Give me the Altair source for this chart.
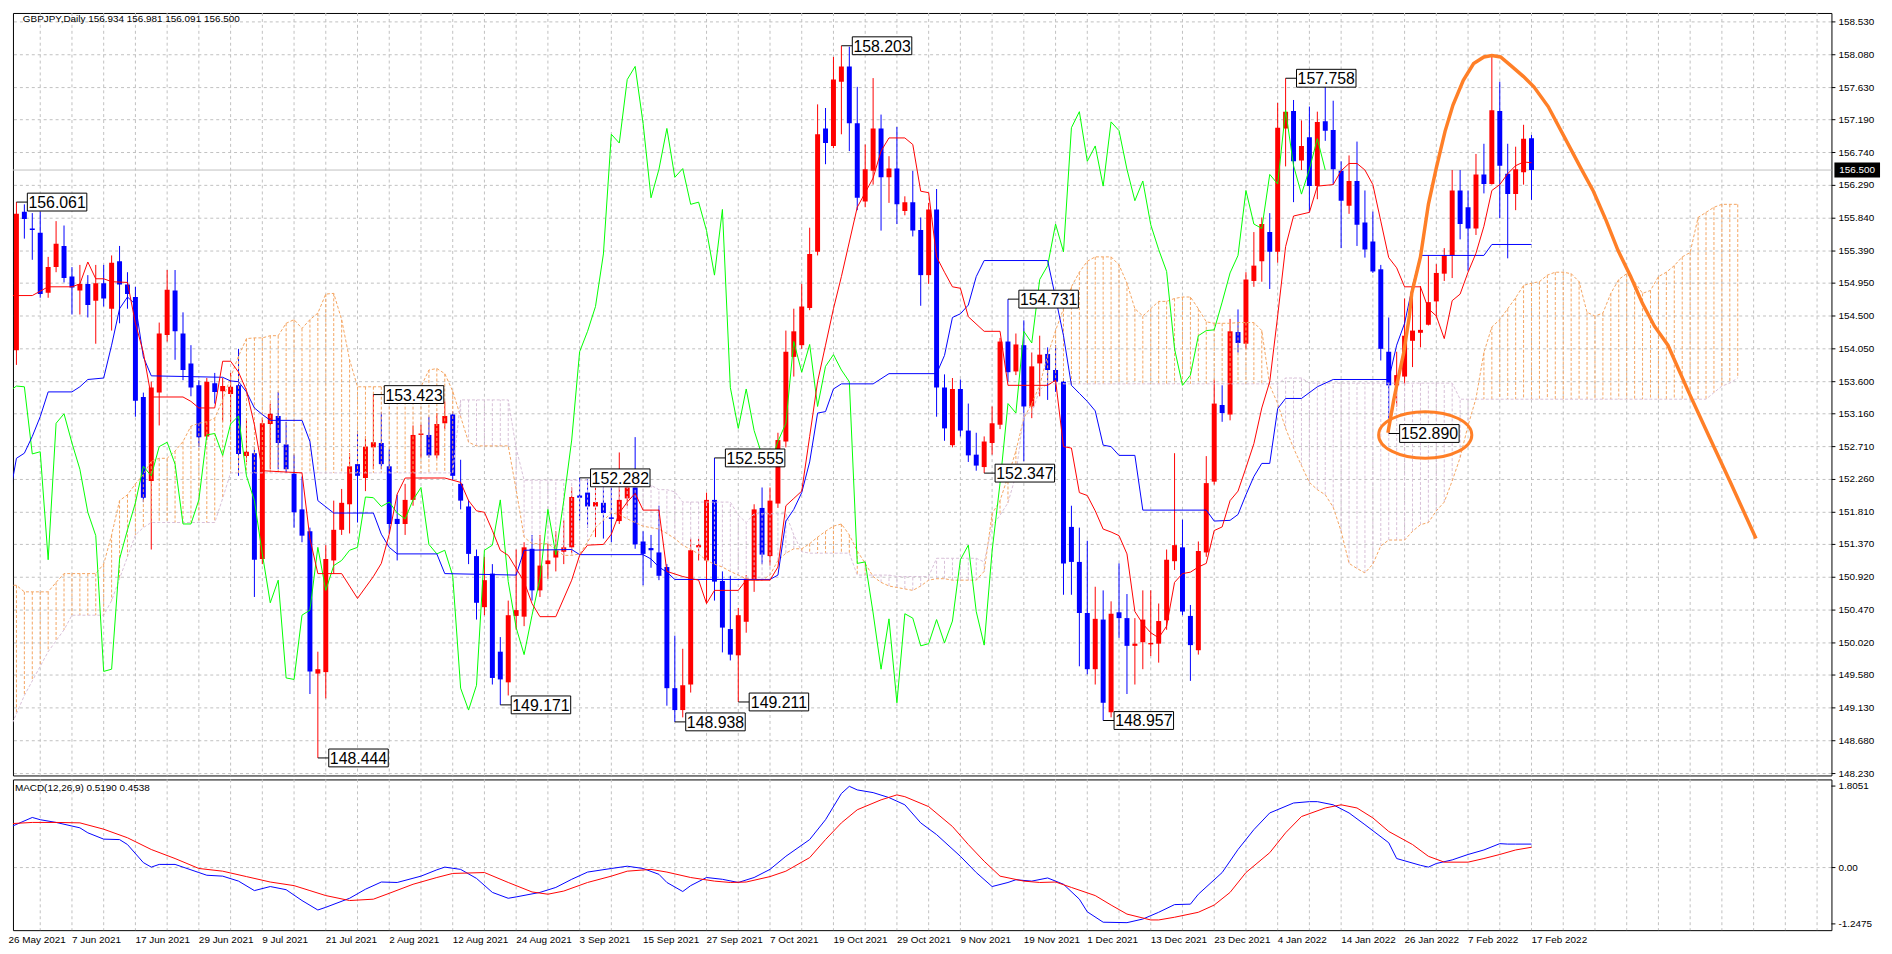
import altair as alt
import pandas as pd

# ---------------- data ----------------
date_bars = [0, 8, 16, 24, 32, 40, 48, 56, 64, 72, 80, 88, 96, 104, 112, 120,
             128, 136, 144, 152, 160, 168, 176, 184, 192]
date_labels = ["26 May 2021", "7 Jun 2021", "17 Jun 2021", "29 Jun 2021", "9 Jul 2021",
               "21 Jul 2021", "2 Aug 2021", "12 Aug 2021", "24 Aug 2021", "3 Sep 2021",
               "15 Sep 2021", "27 Sep 2021", "7 Oct 2021", "19 Oct 2021", "29 Oct 2021",
               "9 Nov 2021", "19 Nov 2021", "1 Dec 2021", "13 Dec 2021", "23 Dec 2021",
               "4 Jan 2022", "14 Jan 2022", "26 Jan 2022", "7 Feb 2022", "17 Feb 2022"]
grid_bars = [4, 8, 12, 16, 20, 24, 28, 32, 36, 40, 44, 48, 52, 56, 60, 64, 68, 72, 76, 80,
             84, 88, 92, 96, 100, 104, 108, 112, 116, 120, 124, 128, 132, 136, 140, 144,
             148, 152, 156, 160, 164, 168, 172, 176, 180, 184, 188, 192, 196, 200, 204, 208,
             212, 216, 220, 224, 228]

opens = [153.76, 154.03, 155.93, 155.70, 155.64, 154.82, 155.17, 155.46, 155.04, 154.85,
         154.94, 154.71, 154.95, 154.60, 155.25, 154.93, 154.76, 153.39, 152.24, 153.45,
         154.24, 154.85, 154.26, 153.85, 153.55, 152.85, 153.58, 153.47, 153.43, 153.55,
         152.58, 152.62, 151.17, 153.02, 153.13, 152.74, 152.34, 151.85, 151.55, 149.60,
         149.62, 151.15, 151.57, 151.92, 152.47, 152.28, 152.70, 152.76, 152.44, 151.72,
         151.65, 151.98, 152.87, 152.87, 152.59, 153.03, 153.15, 152.20, 151.89, 151.21,
         150.51, 150.97, 149.90, 149.48, 150.39, 150.38, 151.31, 150.74, 151.10, 151.19,
         151.27, 151.33, 152.04, 152.08, 151.89, 151.94, 151.74, 151.69, 152.00, 152.15,
         151.41, 151.32, 151.26, 151.06, 149.40, 149.10, 149.45, 151.33, 151.15, 151.98,
         150.87, 150.21, 149.85, 150.31, 150.89, 151.87, 151.21, 151.93, 152.78, 153.94,
         154.10, 154.61, 155.38, 157.07, 156.83, 157.71, 157.92, 157.14, 156.07, 156.49,
         157.07, 156.40, 156.52, 155.94, 156.06, 155.68, 155.06, 155.96, 153.52, 152.73,
         153.50, 152.93, 152.60, 152.43, 152.76, 153.01, 154.15, 153.74, 154.10, 153.26,
         153.85, 153.98, 153.76, 153.60, 151.61, 151.13, 150.43, 149.66, 150.34, 149.07,
         150.44, 150.36, 149.98, 150.03, 150.00, 150.01, 150.33, 151.14, 151.33, 150.39,
         149.92, 151.26, 152.23, 153.28, 153.15, 154.28, 154.12, 154.98, 155.25, 155.65,
         155.38, 157.07, 157.31, 156.63, 156.95, 156.28, 157.17, 157.05, 156.49, 156.01,
         156.35, 155.78, 155.52, 155.14, 154.01, 153.55, 153.67, 154.16, 154.27, 154.38,
         154.70, 155.08, 155.33, 156.22, 155.99, 155.70, 156.44, 156.31, 157.31, 156.45,
         156.17, 156.47, 156.934]
highs = [154.50, 156.061, 156.03, 155.91, 155.93, 155.31, 155.80, 155.74, 155.17, 155.20,
         155.06, 155.20, 155.20, 155.33, 155.46, 155.10, 154.90, 153.45, 153.60, 154.41,
         155.13, 155.13, 154.55, 154.10, 153.62, 153.65, 153.72, 153.65, 153.72, 154.05,
         153.10, 152.70, 153.10, 153.30, 153.46, 153.05, 152.60, 152.30, 151.60, 149.90,
         151.36, 151.97, 152.13, 152.62, 152.92, 152.85, 153.423, 153.18, 152.67, 152.05,
         152.20, 153.00, 153.01, 153.12, 153.17, 153.33, 153.19, 152.53, 151.98, 151.30,
         151.20, 151.10, 150.10, 150.60, 151.30, 151.40, 151.50, 151.50, 151.38, 151.55,
         151.70, 152.15, 152.282, 152.26, 152.15, 152.15, 152.15, 152.63, 152.30, 152.84,
         151.55, 151.50, 151.90, 151.10, 150.12, 149.94, 151.45, 151.45, 152.08, 152.555,
         151.00, 150.94, 150.50, 150.95, 151.92, 152.15, 152.15, 152.90, 154.30, 154.60,
         154.94, 155.71, 157.40, 157.35, 158.05, 158.203, 158.19, 157.64, 156.85, 157.76,
         157.26, 156.69, 157.09, 156.14, 156.49, 155.85, 156.05, 156.24, 153.70, 153.65,
         153.63, 153.30, 152.90, 152.85, 153.26, 154.20, 154.731, 154.26, 154.44, 154.00,
         154.23, 154.07, 154.10, 153.65, 151.90, 151.60, 151.42, 150.79, 150.74, 150.59,
         151.11, 150.69, 150.36, 150.74, 150.74, 150.56, 151.30, 152.62, 151.71, 150.54,
         151.41, 152.58, 153.63, 153.55, 154.46, 154.59, 155.10, 155.65, 155.85, 155.91,
         157.42, 157.758, 157.46, 157.18, 157.37, 157.30, 157.69, 157.45, 156.62, 156.70,
         156.89, 156.22, 155.93, 155.20, 154.48, 154.01, 154.74, 154.93, 154.91, 155.33,
         155.21, 155.43, 156.50, 156.50, 156.22, 156.72, 156.86, 158.05, 157.71, 156.86,
         156.82, 157.12, 156.981]
lows = [153.70, 153.83, 155.56, 155.27, 154.75, 154.75, 155.10, 154.96, 154.52, 154.52,
        154.48, 154.12, 154.63, 154.30, 154.40, 154.60, 153.12, 151.95, 151.30, 153.00,
        154.15, 153.90, 153.62, 153.40, 152.71, 152.80, 153.30, 153.05, 153.05, 152.31,
        152.50, 150.65, 151.10, 152.40, 152.40, 152.35, 151.60, 151.40, 149.32, 148.444,
        149.26, 150.97, 151.50, 151.52, 151.67, 152.10, 152.40, 152.40, 151.52, 151.15,
        151.50, 151.90, 152.56, 152.56, 152.55, 152.95, 152.25, 151.85, 151.10, 150.34,
        150.40, 149.45, 149.171, 149.30, 150.20, 150.25, 150.60, 150.65, 150.90, 151.00,
        151.10, 151.25, 151.70, 151.60, 151.47, 151.45, 151.40, 151.65, 151.90, 151.31,
        150.81, 151.05, 150.88, 149.16, 148.938, 149.00, 149.34, 151.15, 150.56, 150.60,
        149.89, 149.78, 149.211, 150.16, 150.72, 151.10, 151.08, 151.87, 152.70, 153.67,
        154.05, 154.58, 155.33, 156.58, 156.80, 156.99, 156.76, 155.95, 155.99, 156.30,
        155.67, 156.05, 155.76, 155.88, 155.59, 154.64, 154.94, 153.12, 152.79, 152.70,
        152.85, 152.50, 152.38, 152.347, 152.60, 152.95, 153.60, 153.69, 152.51, 153.10,
        153.40, 153.35, 153.46, 150.68, 150.68, 149.70, 149.59, 149.45, 148.957, 149.00,
        150.09, 149.32, 149.45, 149.66, 149.84, 149.75, 150.20, 151.02, 150.40, 149.50,
        149.86, 151.20, 152.19, 153.05, 153.07, 154.00, 154.05, 154.90, 154.97, 154.87,
        155.23, 156.55, 156.06, 156.50, 155.92, 156.10, 156.90, 156.30, 155.43, 155.90,
        155.46, 155.30, 155.09, 153.89, 152.89, 153.26, 153.55, 153.80, 154.07, 154.37,
        154.48, 154.98, 155.02, 155.55, 155.12, 155.61, 156.18, 156.30, 155.84, 155.29,
        155.95, 156.30, 156.091]
closes = [154.35, 155.90, 155.83, 155.68, 154.80, 155.17, 155.49, 155.02, 154.89, 154.94,
          154.65, 154.95, 154.74, 155.23, 154.93, 154.80, 153.34, 152.01, 153.52, 154.26,
          154.86, 154.29, 153.76, 153.52, 152.84, 153.60, 153.46, 153.54, 153.53, 152.61,
          152.64, 151.16, 153.03, 153.16, 152.76, 152.40, 151.81, 151.49, 149.63, 149.66,
          151.17, 151.57, 151.94, 152.44, 152.31, 152.71, 152.77, 152.47, 151.65, 151.65,
          151.98, 152.87, 152.89, 152.59, 153.02, 153.13, 152.31, 151.97, 151.24, 150.57,
          150.88, 149.54, 149.52, 150.40, 150.47, 151.33, 150.74, 151.08, 151.15, 151.29,
          151.33, 152.02, 152.01, 151.89, 151.95, 151.80, 151.72, 151.98, 152.15, 151.37,
          151.24, 151.29, 150.94, 149.40, 149.10, 149.44, 151.29, 151.36, 151.98, 150.86,
          150.23, 149.86, 150.40, 150.90, 151.85, 151.23, 151.97, 152.80, 154.01, 154.29,
          154.63, 155.35, 156.99, 156.87, 157.74, 157.92, 157.14, 156.12, 156.51, 157.07,
          156.40, 156.52, 156.03, 156.06, 155.67, 155.06, 155.96, 153.52, 152.96, 153.50,
          152.93, 152.59, 152.45, 152.78, 153.03, 154.15, 153.73, 154.11, 153.26, 153.81,
          153.97, 153.76, 153.60, 151.11, 151.13, 150.43, 149.66, 150.35, 149.20, 150.42,
          150.36, 149.98, 150.01, 150.34, 150.02, 150.32, 151.16, 151.36, 150.45, 149.99,
          151.28, 152.21, 153.30, 153.17, 154.29, 154.13, 155.00, 155.19, 155.76, 155.38,
          157.08, 157.30, 156.62, 156.83, 156.28, 157.16, 157.04, 156.51, 156.08, 156.35,
          155.75, 155.41, 155.11, 154.05, 153.55, 153.69, 154.23, 154.30, 154.31, 154.69,
          155.09, 155.33, 156.22, 155.76, 155.70, 156.44, 156.31, 157.32, 156.56, 156.17,
          156.51, 156.93, 156.500]

tenkan_x = [0, 3, 5, 8, 9, 10, 11, 12, 13, 15, 16, 17, 18, 22, 23, 24, 26, 27, 28, 29,
            30, 31, 32, 37, 38, 39, 42, 44, 46, 47, 48, 49, 50, 55, 57, 58, 59, 60, 61, 62,
            63, 65, 66, 67, 69, 71, 72, 73, 75, 76, 77, 78, 79, 80, 82, 83, 85, 87, 88, 89,
            92, 93, 96, 97, 98, 99, 100, 101, 102, 103, 104, 105, 107, 109, 110, 111, 113,
            114, 115, 116, 117, 118, 119, 120, 121, 123, 125, 126, 131, 132, 133, 134, 135,
            136, 137, 138, 139, 140, 141, 142, 143, 144, 145, 146, 147, 148, 149, 150, 151,
            152, 153, 154, 155, 156, 157, 158, 159, 160, 161, 162, 164, 165, 167, 168, 169,
            170, 171, 172, 173, 174, 175, 176, 178, 179, 180, 181, 182, 183, 184, 185, 186,
            187, 188, 189, 190, 191, 192]
tenkan_v = [154.78, 154.78, 154.90, 154.90, 154.94, 155.24, 155.01, 155.01, 154.97, 154.96,
            154.40, 154.00, 153.39, 153.39, 153.33, 153.24, 153.24, 153.88, 153.88, 153.73,
            153.48, 153.01, 152.38, 152.35, 151.45, 150.97, 150.97, 150.63, 150.93, 151.11,
            151.51, 152.06, 152.28, 152.28, 152.22, 151.97, 151.83, 151.81, 151.56, 151.29,
            151.22, 150.86, 150.56, 150.38, 150.38, 150.88, 151.22, 151.36, 151.37, 151.51,
            151.80, 151.95, 152.07, 151.84, 151.84, 151.00, 150.93, 150.88, 150.56, 150.74,
            150.74, 150.88, 150.88, 151.06, 151.90, 152.00, 152.10, 152.85, 153.60, 154.10,
            154.60, 155.04, 155.99, 156.39, 156.76, 156.94, 156.94, 156.85, 156.21, 156.19,
            155.31, 155.10, 154.90, 154.88, 154.49, 154.29, 154.29, 153.55, 153.55, 153.62,
            152.71, 152.69, 152.08, 152.04, 151.83, 151.58, 151.54, 151.49, 151.24, 150.45,
            150.28, 150.16, 150.09, 150.25, 150.85, 150.97, 150.99, 151.06, 151.11, 151.56,
            151.61, 151.97, 152.10, 152.42, 152.75, 153.24, 153.60, 154.50, 155.45, 155.87,
            155.92, 156.28, 156.30, 156.49, 156.59, 156.59, 156.50, 156.30, 155.80, 155.30,
            155.16, 154.90, 154.90, 154.60, 154.50, 154.19, 154.71, 154.80, 155.10, 155.36,
            155.73, 156.22, 156.30, 156.45, 156.56, 156.61, 156.60]

kijun_x = [0, 1, 2, 3, 4, 5, 8, 9, 10, 12, 13, 14, 15, 16, 17, 18, 27, 28, 29, 30,
           31, 32, 33, 37, 38, 39, 41, 46, 47, 48, 49, 54, 55, 64, 65, 71, 72, 80, 81, 82,
           83, 84, 96, 97, 98, 99, 100, 101, 102, 103, 104, 105, 109, 111, 117, 118, 119,
           120, 121, 122, 123, 131, 132, 133, 134, 135, 136, 137, 138, 139, 140, 142, 143,
           151, 152, 154, 155, 156, 157, 158, 159, 160, 161, 163, 165, 167, 174, 175, 176,
           177, 178, 186, 187, 192]
kijun_v = [151.94, 152.55, 152.62, 152.85, 153.12, 153.46, 153.46, 153.53, 153.63, 153.65,
           154.10, 154.60, 154.76, 154.66, 153.94, 153.68, 153.66, 153.61, 153.60, 153.46,
           153.24, 153.15, 153.07, 153.07, 152.78, 151.97, 151.80, 151.80, 151.51, 151.33,
           151.24, 151.24, 150.97, 150.95, 151.29, 151.30, 151.23, 151.23, 151.17, 151.06,
           150.99, 150.89, 150.89, 150.95, 151.69, 151.85, 152.08, 152.50, 153.17, 153.19,
           153.50, 153.57, 153.57, 153.71, 153.71, 153.96, 154.48, 154.53, 154.65, 155.04,
           155.26, 155.26, 154.75, 154.23, 153.55, 153.44, 153.33, 153.20, 152.73, 152.71,
           152.59, 152.59, 151.84, 151.84, 151.69, 151.70, 151.78, 152.05, 152.30, 152.48,
           152.48, 153.23, 153.37, 153.37, 153.53, 153.63, 153.63, 154.10, 154.40, 154.91,
           155.33, 155.33, 155.48, 155.48]

CHIKOU_SHIFT = 26

# Senkou span A / B, one value per bar (bars 0..218)
span_a = [150.81, 150.81, 150.72, 150.72, 150.72, 150.72, 150.85, 150.97, 150.97, 150.97,
          150.97, 150.97, 151.10, 151.50, 151.97, 152.05, 152.20, 152.33, 152.51, 152.55,
          152.55, 152.65, 152.78, 152.99, 153.03, 153.05, 153.10, 153.35, 153.66, 153.95,
          154.19, 154.20, 154.20, 154.23, 154.23, 154.40, 154.45, 154.33, 154.45, 154.54,
          154.80, 154.81, 154.45, 153.90, 153.53, 153.53, 153.53, 153.53, 153.53, 153.53,
          153.53, 153.53, 153.53, 153.76, 153.78, 153.71, 153.47, 153.12, 152.77, 152.72,
          152.72, 152.72, 152.72, 152.72, 152.12, 151.47, 151.38, 151.38, 151.38, 151.30,
          151.22, 151.22, 151.24, 151.40, 151.60, 151.70, 151.80, 151.78, 151.72, 151.67,
          151.62, 151.60, 151.58, 151.52, 151.45, 151.36, 151.30, 151.24, 151.15, 151.10,
          151.06, 151.00, 150.95, 150.90, 150.88, 150.88, 150.95, 151.15, 151.25, 151.31,
          151.31, 151.38, 151.47, 151.55, 151.62, 151.65, 151.50, 151.28, 151.11, 150.93,
          150.85, 150.80, 150.78, 150.76, 150.74, 150.80, 150.88, 150.90, 150.90, 150.88,
          150.88, 150.88, 150.88, 151.00, 151.79, 151.97, 152.30, 152.65, 153.10, 153.30,
          153.55, 153.96, 154.30, 154.60, 154.90, 155.10, 155.25, 155.31, 155.31, 155.31,
          155.20, 154.95, 154.60, 154.50, 154.60, 154.70, 154.70, 154.74, 154.76, 154.76,
          154.60, 154.42, 154.40, 154.40, 154.40, 154.41, 154.41, 154.41, 154.30, 153.55,
          153.30, 152.96, 152.69, 152.45, 152.22, 152.12, 152.05, 151.88, 151.55, 151.11,
          151.04, 150.98, 151.10, 151.35, 151.43, 151.43, 151.43, 151.55, 151.64, 151.67,
          151.83, 151.95, 152.24, 152.56, 153.00, 153.37, 154.00, 154.35, 154.45, 154.60,
          154.75, 154.92, 154.95, 154.97, 155.06, 155.10, 155.10, 155.08, 154.97, 154.55,
          154.50, 154.54, 154.81, 155.00, 155.08, 154.97, 154.81, 154.85, 155.04, 155.10,
          155.19, 155.31, 155.37, 155.85, 155.92, 155.99, 156.03, 156.03, 156.03]
span_b = [148.80, 149.05, 149.30, 149.50, 149.70, 149.90, 150.05, 150.20, 150.40, 150.40,
          150.40, 150.40, 150.40, 150.60, 150.90, 151.20, 151.50, 151.60, 151.67, 151.67,
          151.67, 151.67, 151.67, 151.67, 151.67, 151.67, 151.67, 152.00, 152.35, 152.35,
          152.35, 152.35, 152.35, 152.35, 152.35, 152.35, 152.35, 152.35, 152.35, 152.35,
          152.35, 152.35, 152.35, 152.35, 152.35, 152.35, 152.35, 152.35, 152.35, 152.35,
          152.35, 152.35, 152.35, 152.35, 152.35, 152.35, 152.35, 153.35, 153.35, 153.35,
          153.35, 153.35, 153.35, 153.35, 152.69, 152.25, 152.25, 152.25, 152.25, 152.25,
          152.25, 152.25, 152.25, 152.25, 152.25, 152.25, 152.25, 152.25, 152.25, 152.24,
          152.18, 152.18, 152.12, 152.12, 152.09, 151.95, 151.95, 151.95, 151.95, 151.95,
          151.95, 151.95, 151.77, 151.67, 151.79, 151.79, 151.79, 151.79, 151.79, 151.50,
          151.27, 151.25, 151.25, 151.25, 151.25, 151.25, 151.25, 150.95, 150.95, 150.95,
          150.95, 150.95, 150.93, 150.93, 150.93, 150.93, 150.93, 151.18, 151.18, 151.18,
          151.18, 151.18, 151.18, 151.13, 151.62, 151.77, 151.94, 152.32, 153.17, 153.17,
          153.49, 153.57, 153.57, 153.57, 153.57, 153.57, 153.57, 153.57, 153.57, 153.57,
          153.57, 153.57, 153.57, 153.57, 153.57, 153.57, 153.57, 153.57, 153.57, 153.57,
          153.57, 153.57, 153.57, 153.57, 153.57, 153.57, 153.57, 153.57, 153.57, 153.57,
          153.57, 153.65, 153.65, 153.65, 153.58, 153.58, 153.58, 153.58, 153.58, 153.58,
          153.58, 153.58, 153.58, 153.58, 153.58, 153.58, 153.58, 153.58, 153.58, 153.58,
          153.58, 153.58, 153.58, 153.36, 153.36, 153.36, 153.36, 153.36, 153.36, 153.36,
          153.36, 153.36, 153.36, 153.36, 153.36, 153.36, 153.36, 153.36, 153.36, 153.36,
          153.36, 153.36, 153.36, 153.36, 153.36, 153.36, 153.36, 153.36, 153.36, 153.36,
          153.36, 153.36, 153.36, 153.36, 153.36, 153.45, 153.54, 153.58, 153.65]

macd_x = [0, 3, 4, 6, 9, 10, 12, 14, 15, 17, 18, 19, 21, 24, 25, 27, 29, 31, 33, 35,
          37, 39, 40, 43, 45, 47, 49, 52, 54, 55, 57, 59, 61, 63, 64, 67, 69, 71, 73, 76,
          78, 80, 82, 83, 85, 86, 88, 90, 92, 94, 96, 98, 101, 103, 105, 106, 107, 109, 111, 113,
          115, 117, 120, 122, 124, 126, 127, 129, 131, 133, 135, 136, 138, 141, 143, 145, 147,
          149, 150, 153, 155, 157, 159, 162, 164, 165, 167, 169, 171, 174, 175, 178, 179, 180,
          182, 184, 186, 188, 189, 190, 192]
macd_v = [0.88, 1.11, 1.06, 1.00, 0.88, 0.77, 0.63, 0.62, 0.51, 0.11,
          0.01, 0.07, 0.07, -0.11, -0.17, -0.19, -0.30, -0.51, -0.42, -0.49,
          -0.73, -0.94, -0.88, -0.68, -0.48, -0.32, -0.33, -0.19, -0.05, 0.01,
          -0.04, -0.24, -0.55, -0.68, -0.65, -0.55, -0.44, -0.26, -0.10, -0.02,
          0.03, -0.02, -0.15, -0.33, -0.53, -0.40, -0.22, -0.26, -0.33, -0.22,
          -0.04, 0.25, 0.62, 1.06, 1.64, 1.80, 1.72, 1.66, 1.55, 1.39,
          0.99, 0.73, 0.25, -0.11, -0.42, -0.33, -0.27, -0.30, -0.23, -0.37,
          -0.70, -0.98, -1.21, -1.22, -1.14, -0.99, -0.82, -0.81, -0.59, -0.11,
          0.40, 0.84, 1.21, 1.43, 1.46, 1.46, 1.39, 1.21, 0.95, 0.55,
          0.20, 0.05, 0.01, 0.09, 0.17, 0.29, 0.39, 0.53, 0.52, 0.52, 0.52]
signal_x = [0, 3, 6, 9, 12, 15, 18, 21, 24, 27, 30, 33, 36, 38, 40, 43, 46, 48, 51, 54,
            56, 60, 63, 66, 68, 70, 73, 76, 78, 81, 83, 86, 89, 91, 93, 96, 98, 101, 103, 105,
            107, 110, 112, 113, 116, 119, 121, 123, 125, 128, 130, 132, 134, 137, 139, 141, 144,
            145, 147, 150, 152, 154, 156, 159, 161, 163, 166, 168, 170, 172, 174, 177, 179, 181,
            184, 186, 188, 190, 192]
signal_v = [0.97, 1.00, 1.00, 0.99, 0.85, 0.66, 0.40, 0.20, -0.02, -0.08,
            -0.20, -0.32, -0.40, -0.51, -0.62, -0.73, -0.70, -0.57, -0.37, -0.22,
            -0.13, -0.11, -0.33, -0.54, -0.59, -0.52, -0.33, -0.19, -0.08, -0.04,
            -0.10, -0.22, -0.30, -0.33, -0.32, -0.20, -0.08, 0.22, 0.62, 0.99,
            1.28, 1.50, 1.61, 1.57, 1.35, 0.91, 0.51, 0.14, -0.19, -0.30,
            -0.33, -0.32, -0.44, -0.62, -0.83, -1.03, -1.16, -1.16, -1.10, -0.99,
            -0.83, -0.55, -0.11, 0.33, 0.77, 1.13, 1.32, 1.39, 1.32, 1.10,
            0.80, 0.51, 0.25, 0.12, 0.12, 0.20, 0.29, 0.39, 0.45]

price_ticks = [158.530, 158.080, 157.630, 157.190, 156.740, 156.290, 155.840, 155.390,
               154.950, 154.500, 154.050, 153.600, 153.160, 152.710, 152.260, 151.810,
               151.370, 150.920, 150.470, 150.020, 149.580, 149.130, 148.680, 148.230]
macd_ticks = [1.8051, 0.0, -1.2475]
macd_tick_labels = ["1.8051", "0.00", "-1.2475"]

label_bars = [1, 39, 46, 62, 72, 84, 89, 92, 105, 123, 126, 138, 161, 174]
label_prices = [156.061, 148.444, 153.423, 149.171, 152.282, 148.938, 152.555, 149.211,
                158.203, 152.347, 154.731, 148.957, 157.758, 152.890]

curve_x = [173.9, 174.6, 175.1, 175.9, 176.6, 176.9, 178.0, 179.0, 180.0, 181.1, 182.1,
           183.4, 184.7, 186.0, 187.0, 188.1, 189.4, 191.0, 192.3, 194.1, 196.2, 198.2,
           199.8, 201.4, 202.9, 204.5, 206.0, 207.5, 209.2, 211.8, 214.3, 217.0, 220.3]
curve_y = [152.90, 153.33, 153.60, 154.00, 154.50, 154.81, 155.31, 156.03, 156.53, 157.03,
           157.39, 157.73, 157.96, 158.05, 158.07, 158.05, 157.93, 157.78, 157.64, 157.37,
           156.94, 156.53, 156.21, 155.81, 155.40, 155.04, 154.67, 154.36, 154.10, 153.46,
           152.87, 152.24, 151.45]
ellipse_center = [178.6, 152.87]

last_price = 156.500
header_text = "GBPJPY,Daily  156.934 156.981 156.091 156.500"
macd_header = "MACD(12,26,9) 0.5190 0.4538"

# ---------------- style / layout ----------------
W = 1834
H_MAIN = 769
H_MACD = 152
X_DOM = [0.5625, 229.8125]
Y_DOM = [148.2038, 158.6523]
M_DOM = [-1.386, 1.952]
GRID = "#c0c0c0"
FONT = "Liberation Sans"
RED, BLUE, LIME = "#ff0000", "#0000ff", "#00ff00"
SANDY, THISTLE, ORANGE = "#f4a460", "#d8bfd8", "#ff7f27"
BOX = "M-1,-0.3L1,-0.3L1,0.3L-1,0.3Z"
ELLIPSE = "M-1,0A1,0.5,0,1,0,1,0A1,0.5,0,1,0,-1,0Z"

xs = alt.Scale(domain=X_DOM, nice=False, zero=False)
ys = alt.Scale(domain=Y_DOM, nice=False, zero=False)
ms = alt.Scale(domain=M_DOM, nice=False, zero=False)


def X(f):
    return alt.X(f + ":Q", scale=xs, axis=None)


def Y(f):
    return alt.Y(f + ":Q", scale=ys, axis=None)


def M(f):
    return alt.Y(f + ":Q", scale=ms, axis=None)


cdf = pd.DataFrame({"bar": list(range(len(opens))), "open": opens, "high": highs,
                    "low": lows, "close": closes})
cdf["col"] = [RED if c >= o else BLUE for o, c in zip(opens, closes)]

kdf = pd.DataFrame({"bar": list(range(len(span_a))), "a": span_a, "b": span_b})
kdf["col"] = [SANDY if a >= b else THISTLE for a, b in zip(span_a, span_b)]

chdf = pd.DataFrame({"bar": list(range(len(closes) - CHIKOU_SHIFT)),
                     "v": closes[CHIKOU_SHIFT:]})
tdf = pd.DataFrame({"bar": tenkan_x, "v": tenkan_v})
kjdf = pd.DataFrame({"bar": kijun_x, "v": kijun_v})
ldf = pd.DataFrame({"bar": label_bars, "price": label_prices,
                    "txt": [f"{p:.3f}" for p in label_prices]})
cur = pd.DataFrame({"x": curve_x, "y": curve_y, "i": list(range(len(curve_x)))})
eld = pd.DataFrame({"x": [ellipse_center[0]], "y": [ellipse_center[1]]})
lp = pd.DataFrame({"p": [last_price], "t": [f"{last_price:.3f}"]})
pt = pd.DataFrame({"p": price_ticks, "t": [f"{p:.3f}" for p in price_ticks]})
gb = pd.DataFrame({"bar": grid_bars})
mt = pd.DataFrame({"v": macd_ticks, "t": macd_tick_labels})

# ---- hand-made axes (grid, ticks, labels) ----
grid_v = alt.Chart(gb).mark_rule(color=GRID, strokeWidth=1, strokeDash=[3, 3]).encode(
    x=X("bar"))
grid_h = alt.Chart(pt).mark_rule(color=GRID, strokeWidth=1, strokeDash=[3, 3]).encode(
    y=Y("p"))
yticks = alt.Chart(pt).mark_rule(color="black", strokeWidth=1).encode(
    x=alt.value(W), x2=alt.value(W + 4), y=Y("p"))
ylabels = alt.Chart(pt).mark_text(font=FONT, fontSize=10, color="black", align="left",
                                  baseline="middle").encode(
    x=alt.value(W + 7), y=Y("p"), text="t:N")

pline = alt.Chart(lp).mark_rule(color=GRID, strokeWidth=1).encode(y=Y("p"))
wicks = alt.Chart(cdf).mark_rule(strokeWidth=1, clip=True).encode(
    x=X("bar"), y=Y("low"), y2="high", color=alt.Color("col:N", scale=None))
bodies = alt.Chart(cdf).mark_rule(strokeWidth=5, clip=True).encode(
    x=X("bar"), y=Y("open"), y2="close", color=alt.Color("col:N", scale=None))
hatch = alt.Chart(kdf).mark_rule(strokeWidth=1, strokeDash=[3, 2], clip=True).encode(
    x=X("bar"), y=Y("a"), y2="b", color=alt.Color("col:N", scale=None))
span_a_line = alt.Chart(kdf).mark_line(color=SANDY, strokeWidth=1, strokeDash=[3, 2],
                                       clip=True).encode(x=X("bar"), y=Y("a"))
span_b_line = alt.Chart(kdf).mark_line(color=THISTLE, strokeWidth=1, strokeDash=[3, 2],
                                       clip=True).encode(x=X("bar"), y=Y("b"))
chikou = alt.Chart(chdf).mark_line(color=LIME, strokeWidth=1, clip=True).encode(
    x=X("bar"), y=Y("v"))
kijun = alt.Chart(kjdf).mark_line(color=BLUE, strokeWidth=1, clip=True).encode(
    x=X("bar"), y=Y("v"))
tenkan = alt.Chart(tdf).mark_line(color=RED, strokeWidth=1, clip=True).encode(
    x=X("bar"), y=Y("v"))
conn = alt.Chart(ldf).mark_rule(color="black", strokeWidth=1, x2Offset=11).encode(
    x=X("bar"), x2="bar", y=Y("price"))
boxes = alt.Chart(ldf).mark_point(shape=BOX, size=3600, filled=True, fill="white",
                                  stroke="black", strokeWidth=1, opacity=1,
                                  xOffset=41).encode(x=X("bar"), y=Y("price"))
texts = alt.Chart(ldf).mark_text(font=FONT, fontSize=16, color="black", align="center",
                                 baseline="middle", xOffset=41, dy=1).encode(
    x=X("bar"), y=Y("price"), text="txt:N")
curve = alt.Chart(cur).mark_line(color=ORANGE, strokeWidth=3.5, clip=True).encode(
    x=X("x"), y=Y("y"), order="i:Q")
ellipse = alt.Chart(eld).mark_point(shape=ELLIPSE, size=94 * 94, filled=False,
                                    stroke=ORANGE, strokeWidth=3, opacity=1).encode(
    x=X("x"), y=Y("y"))
pbox = alt.Chart(lp).mark_point(shape=BOX, size=44 * 44, filled=True, fill="black",
                                stroke="black", opacity=1).encode(
    x=alt.value(W + 26), y=Y("p"))
ptext = alt.Chart(lp).mark_text(font=FONT, fontSize=10, color="white", align="center",
                                baseline="middle").encode(
    x=alt.value(W + 26), y=Y("p"), text="t:N")
head = alt.Chart(pd.DataFrame({"t": [header_text]})).mark_text(
    font=FONT, fontSize=10, color="black", align="left", baseline="top").encode(
    x=alt.value(10), y=alt.value(1), text="t:N")

main = alt.layer(grid_v, grid_h, pline, wicks, bodies, hatch, span_a_line, span_b_line,
                 chikou, kijun, tenkan, conn, boxes, texts, curve, ellipse, yticks,
                 ylabels, pbox, ptext, head).properties(width=W, height=H_MAIN)

# ---------------- MACD panel ----------------
mdf = pd.DataFrame({"bar": macd_x, "v": macd_v})
sdf = pd.DataFrame({"bar": signal_x, "v": signal_v})
ddf = pd.DataFrame({"bar": date_bars, "t": date_labels})

mgrid_v = alt.Chart(gb).mark_rule(color=GRID, strokeWidth=1, strokeDash=[3, 3]).encode(
    x=X("bar"))
zero = alt.Chart(mt[mt["v"] == 0.0]).mark_rule(
    color=GRID, strokeDash=[3, 3], strokeWidth=1).encode(y=M("v"))
mticks = alt.Chart(mt).mark_rule(color="black", strokeWidth=1).encode(
    x=alt.value(W), x2=alt.value(W + 4), y=M("v"))
mlabels = alt.Chart(mt).mark_text(font=FONT, fontSize=10, color="black", align="left",
                                  baseline="middle").encode(
    x=alt.value(W + 7), y=M("v"), text="t:N")
mline = alt.Chart(mdf).mark_line(color=BLUE, strokeWidth=1, clip=True).encode(
    x=X("bar"), y=M("v"))
sline = alt.Chart(sdf).mark_line(color=RED, strokeWidth=1, clip=True).encode(
    x=X("bar"), y=M("v"))
dates = alt.Chart(ddf).mark_text(font=FONT, fontSize=10, color="black", align="left",
                                 baseline="top").encode(
    x=X("bar"), y=alt.value(H_MACD + 5), text="t:N")
mhead = alt.Chart(pd.DataFrame({"t": [macd_header]})).mark_text(
    font=FONT, fontSize=10, color="black", align="left", baseline="middle").encode(
    x=alt.value(2), y=alt.value(9), text="t:N")

macd = alt.layer(mgrid_v, zero, mline, sline, mticks, mlabels, dates, mhead).properties(
    width=W, height=H_MACD)

chart = alt.vconcat(main, macd, spacing=4, bounds="flush").properties(
    padding=0, background="white").configure_view(stroke="black", strokeWidth=1)

chart.save("out.html", embed_options={"renderer": "svg", "actions": False})
